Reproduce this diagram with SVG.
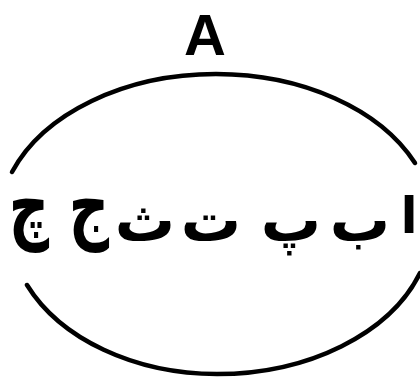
<svg xmlns="http://www.w3.org/2000/svg" width="420" height="380" viewBox="0 0 420 380">
<style>
.arc{fill:none;stroke:#000;stroke-width:4.5;stroke-linecap:round}
.ar{font-family:"DejaVu Sans",sans-serif;font-weight:bold;font-size:60px;fill:#000;text-anchor:middle}
.big{font-size:56px}
.alef{font-size:50px}
.lbl{font-family:"Liberation Sans",Arial,sans-serif;font-weight:bold;font-size:58px;fill:#000;text-anchor:middle}
</style>
<rect width="420" height="380" fill="#fff"/>
<g id="label-A"><text class="lbl" x="205" y="55">A</text></g>
<g id="connectors">
<path class="arc" d="M12,172 C43.6,113.2 124.9,74 216,74 C302.1,74 380,108.9 415,163"/>
<path class="arc" d="M27,285 C60.4,339.1 134.8,374 217,374 C308.6,374 390.1,333.4 420,273"/>
</g>
<g id="letters">
<text class="ar big" transform="translate(29,233) scale(1,1.45)">چ</text>
<text class="ar big" transform="translate(89,233) scale(1,1.45)">ج</text>
<text class="ar" x="145" y="241">ث</text>
<text class="ar" x="211" y="241">ت</text>
<text class="ar" x="291" y="241">پ</text>
<text class="ar" x="360" y="241">ب</text>
<text class="ar alef" x="409" y="233">ا</text>
</g>
</svg>
